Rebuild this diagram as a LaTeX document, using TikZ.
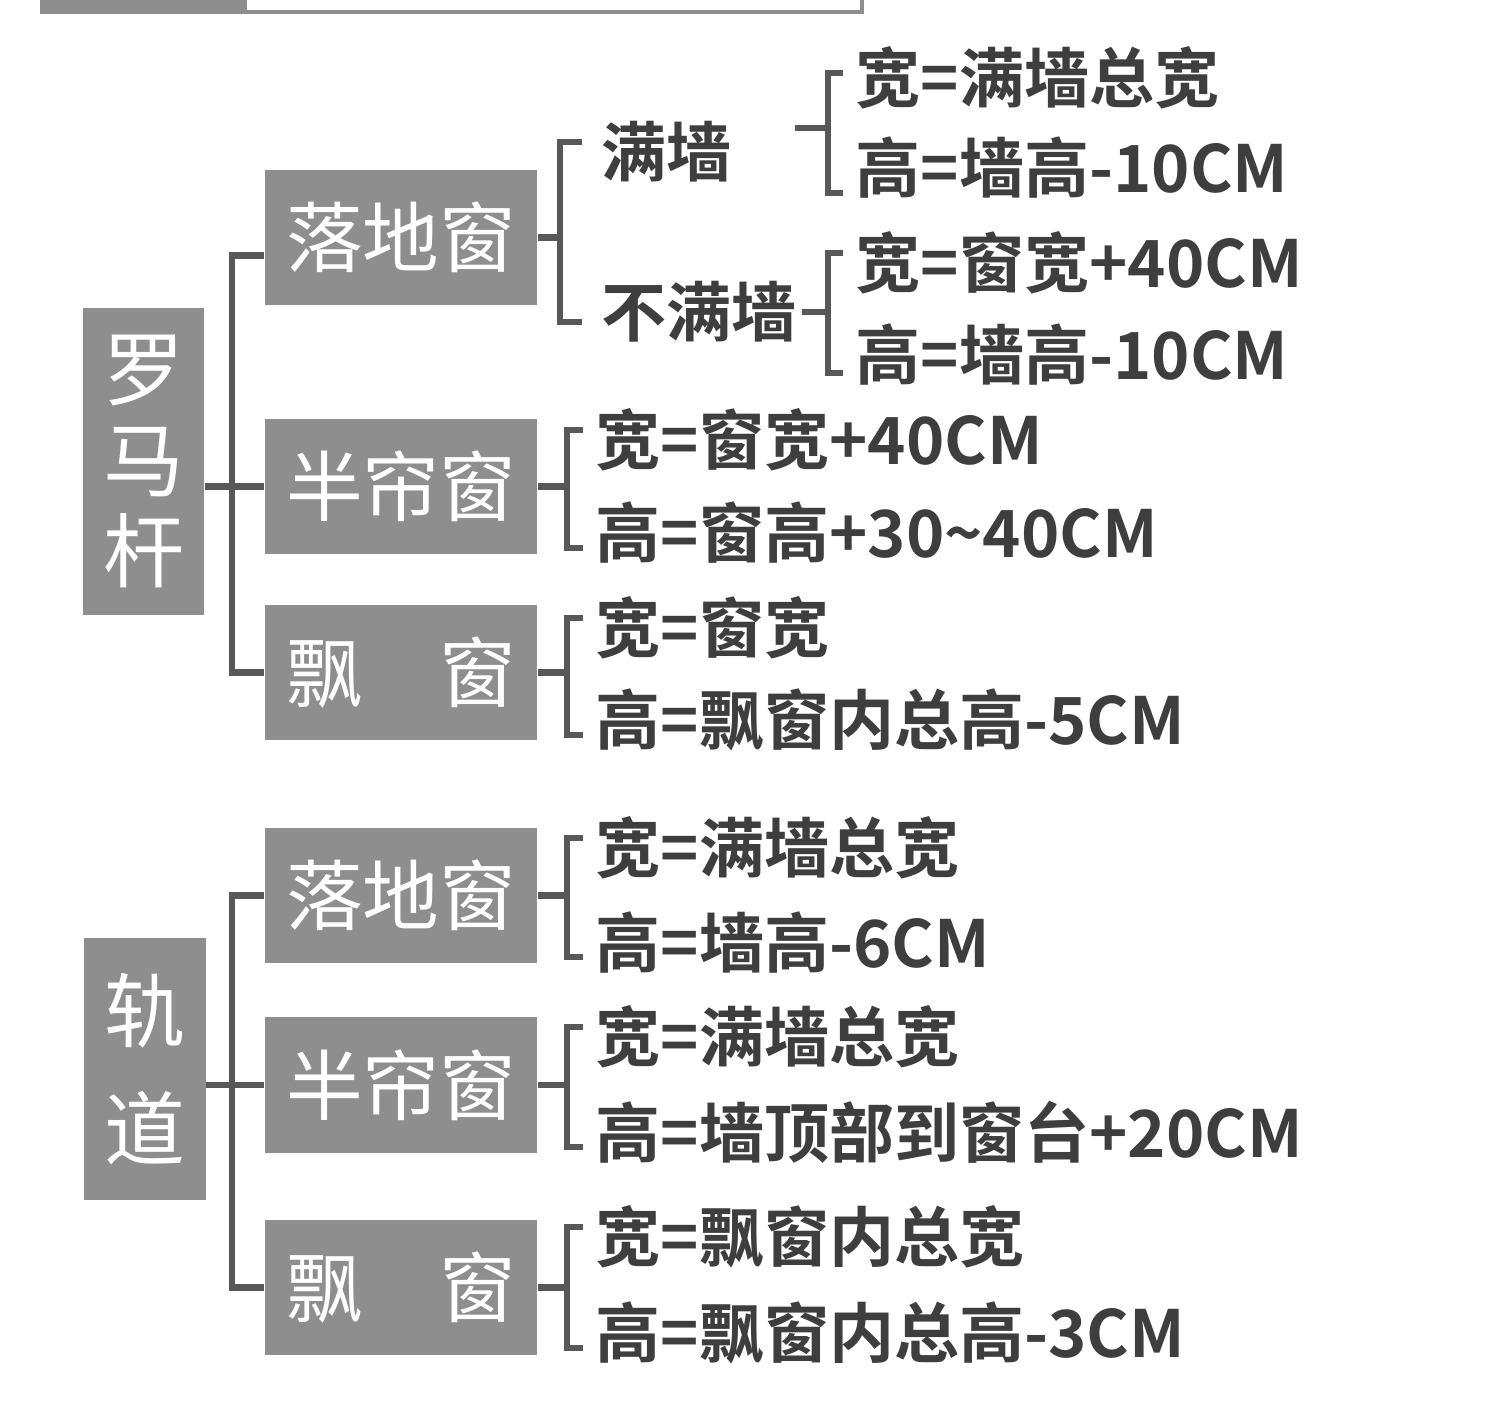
\documentclass[tikz,border=0pt]{standalone}
\usepackage{fontspec}
\newfontfamily\cjk{Noto Sans CJK SC}[BoldFont={Noto Sans CJK SC Bold}]
\usetikzlibrary{calc}
\definecolor{boxgray}{RGB}{142,142,142}
\definecolor{linegray}{RGB}{88,88,88}
\definecolor{textgray}{RGB}{62,62,62}

\begin{document}
\begin{tikzpicture}[x=0.01cm, y=-0.01cm,
    rootbox/.style={fill=boxgray, text=white, inner sep=0pt, align=center, minimum width=1.21cm},
    winbox/.style={fill=boxgray, text=white, inner sep=0pt, minimum width=2.72cm, minimum height=1.35cm,
        font=\cjk\fontsize{21.8pt}{24pt}\selectfont},
    rule/.style={anchor=west, inner sep=0pt, text=textgray, font=\cjk\bfseries\fontsize{18.5pt}{20pt}\selectfont},
    conn/.style={draw=linegray, line width=0.065cm}]
        \useasboundingbox (0,0) rectangle (1500,1414);

        % Header strip
        \fill[boxgray] (40,-10) rectangle (245,14);
        \draw[boxgray, line width=0.04cm] (245,-20) rectangle (862,12);

        % Roman rod
        \node[rootbox, minimum height=3.07cm, font=\cjk\fontsize{23pt}{26pt}\selectfont] (luoma) at (143.5,461.5) {罗\\马\\杆};
        \node[winbox] (ld1) at (401,237.5) {落地窗};
        \node[winbox] (bl1) at (401,486.5) {半帘窗};
        \node[winbox] (pc1) at (401,672.5) {飘\quad 窗};

        \node[rule] (mq) at (601,152) {满墙};
        \node[rule] (bmq) at (601,312) {不满墙};
        \node[rule] (r11) at (855,78) {宽=满墙总宽};
        \node[rule] (r12) at (855,168) {高=墙高-10CM};
        \node[rule] (r13) at (855,263) {宽=窗宽+40CM};
        \node[rule] (r14) at (855,355) {高=墙高-10CM};
        \node[rule] (r21) at (595,440) {宽=窗宽+40CM};
        \node[rule] (r22) at (595,533) {高=窗高+30\textasciitilde40CM};
        \node[rule] (r31) at (595,628) {宽=窗宽};
        \node[rule] (r32) at (595,720) {高=飘窗内总高-5CM};

        % Track
        \node[rootbox, minimum height=2.62cm, font=\cjk\fontsize{23pt}{33.6pt}\selectfont] (guidao) at (145,1069) {轨\\道};
        \node[winbox] (ld2) at (401,895.5) {落地窗};
        \node[winbox] (bl2) at (401,1085) {半帘窗};
        \node[winbox] (pc2) at (401,1287.5) {飘\quad 窗};

        \node[rule] (s11) at (595,848) {宽=满墙总宽};
        \node[rule] (s12) at (595,942) {高=墙高-6CM};
        \node[rule] (s21) at (595,1037) {宽=满墙总宽};
        \node[rule] (s22) at (595,1132) {高=墙顶部到窗台+20CM};
        \node[rule] (s31) at (595,1237) {宽=飘窗内总宽};
        \node[rule] (s32) at (595,1333) {高=飘窗内总高-3CM};

        % Trunks
        \draw[conn] ($(ld1.west)+(0,18)$) -| ($(luoma.east -| pc1.west)+(-32,0)$) |- (pc1.west);
        \draw[conn] (luoma.east |- bl1.west) -- (bl1.west);
        \draw[conn] (ld2.west) -| ($(guidao.east -| pc2.west)+(-32,0)$) |- (pc2.west);
        \draw[conn] (guidao.east |- bl2.west) -- (bl2.west);

        % Brackets, Roman rod
        \draw[conn] (ld1.east) -- ($(ld1.east -| mq.west)+(-41,0)$);
        \draw[conn] ($(mq.west)+(-19,-10)$) -- ($(mq.west)+(-41,-10)$) -- ($(bmq.west)+(-41,10)$) -- ($(bmq.west)+(-19,10)$);
        \draw[conn] ($(r11.west)!0.5!(r12.west)+(-60,5)$) -- ++(33,0);
        \draw[conn] ($(r11.west)+(-12,-5)$) -- ($(r11.west)+(-27,-5)$) -- ($(r12.west)+(-27,25)$) -- ($(r12.west)+(-12,25)$);
        \draw[conn] ($(bmq.east)+(4,0)$) -- ($(bmq.east -| r13.west)+(-27,0)$);
        \draw[conn] ($(r13.west)+(-12,-10)$) -- ($(r13.west)+(-27,-10)$) -- ($(r14.west)+(-27,18)$) -- ($(r14.west)+(-12,18)$);
        \draw[conn] (bl1.east) -- ($(bl1.east -| r21.west)+(-28,0)$);
        \draw[conn] ($(r21.west)+(-12,-10)$) -- ($(r21.west)+(-28,-10)$) -- ($(r22.west)+(-28,15)$) -- ($(r22.west)+(-12,15)$);
        \draw[conn] (pc1.east) -- ($(pc1.east -| r31.west)+(-28,0)$);
        \draw[conn] ($(r31.west)+(-12,-10)$) -- ($(r31.west)+(-28,-10)$) -- ($(r32.west)+(-28,15)$) -- ($(r32.west)+(-12,15)$);

        % Brackets, track
        \draw[conn] (ld2.east) -- ($(ld2.east -| s11.west)+(-28,0)$);
        \draw[conn] ($(s11.west)+(-12,-10)$) -- ($(s11.west)+(-28,-10)$) -- ($(s12.west)+(-28,15)$) -- ($(s12.west)+(-12,15)$);
        \draw[conn] (bl2.east) -- ($(bl2.east -| s21.west)+(-28,0)$);
        \draw[conn] ($(s21.west)+(-12,-10)$) -- ($(s21.west)+(-28,-10)$) -- ($(s22.west)+(-28,15)$) -- ($(s22.west)+(-12,15)$);
        \draw[conn] (pc2.east) -- ($(pc2.east -| s31.west)+(-28,0)$);
        \draw[conn] ($(s31.west)+(-12,-10)$) -- ($(s31.west)+(-28,-10)$) -- ($(s32.west)+(-28,15)$) -- ($(s32.west)+(-12,15)$);
    \end{tikzpicture}
\end{document}
